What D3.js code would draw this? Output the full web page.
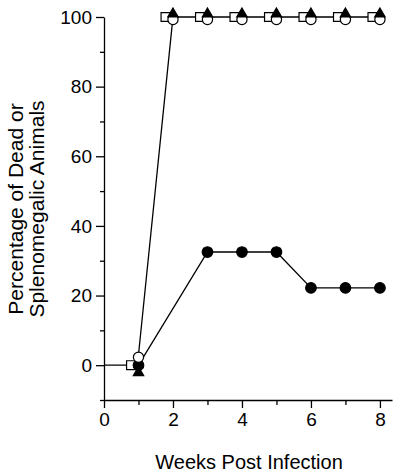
<!DOCTYPE html>
<html lang="en">
<head>
<meta charset="UTF-8">
<title>Weeks Post Infection</title>
<script src="https://cdn.jsdelivr.net/npm/d3@7"></script>
<style>
  body { margin: 0; background: #fff; }
  svg { display: block; font-family: "Liberation Sans", Arial, Helvetica, sans-serif; }
</style>
</head>
<body>
<div id="output"></div>
<script>

// data
var weeks = [1, 2, 3, 4, 5, 6, 7, 8];
var openSquare = [0, 100, 100, 100, 100, 100, 100, 100];
var openCircle = [3, 100, 100, 100, 100, 100, 100, 100];
var filledTriangle = [-3, 100, 100, 100, 100, 100, 100, 100];
var filledCircleWeeks = [1, 3, 4, 5, 6, 7, 8];
var filledCircle = [0, 32.5, 32.5, 32.5, 22.2, 22.2, 22.2];
var leadWeeks = [0, 1];
var leadValues = [0, 0];

var xMajor = [0, 2, 4, 6, 8];
var xMinor = [1, 3, 5, 7];
var yMajor = [0, 20, 40, 60, 80, 100];
var yMinor = [-10, 10, 30, 50, 70, 90];

var w = 400;
var h = 475;

var svg = d3.select("#output")
    .append("svg")
    .attr("width", w)
    .attr("height", h);

var x = d3.scaleLinear().domain([0, 8.35]).range([104, 392]);
var y = d3.scaleLinear().domain([-10, 100]).range([400, 17]);

// axes
var yAxisG = svg.append("g").attr("transform", "translate(104,0)");
yAxisG.call(d3.axisLeft(y).tickValues(yMinor).tickSize(4).tickSizeOuter(0).tickFormat(""));
yAxisG.append("g").call(d3.axisLeft(y).tickValues(yMajor).tickSize(8).tickSizeOuter(0).tickPadding(4));

var xAxisG = svg.append("g").attr("transform", "translate(0,400)");
xAxisG.call(d3.axisBottom(x).tickValues(xMinor).tickSize(5).tickSizeOuter(0).tickFormat(""));
xAxisG.append("g").call(d3.axisBottom(x).tickValues(xMajor).tickSize(8).tickSizeOuter(0).tickPadding(5));

svg.selectAll(".domain").attr("stroke", "#000").attr("stroke-width", 1.3);
svg.selectAll(".tick line").attr("stroke", "#000").attr("stroke-width", 1.3);
svg.selectAll(".tick text").attr("font-size", 19).attr("fill", "#000")
    .attr("font-family", "Liberation Sans, Arial, sans-serif");
// only one domain line per axis
yAxisG.select("g .domain").remove();
xAxisG.select("g .domain").remove();

// titles
svg.append("text")
    .attr("x", 249).attr("y", 469)
    .attr("text-anchor", "middle")
    .attr("font-size", 20)
    .text("Weeks Post Infection");

var yTitle = svg.append("text")
    .attr("transform", "translate(0,209) rotate(-90)")
    .attr("text-anchor", "middle")
    .attr("font-size", 21);
yTitle.append("tspan").attr("x", 0).attr("y", 23).text("Percentage of Dead or");
yTitle.append("tspan").attr("x", 0).attr("y", 44).text("Splenomegalic Animals");

// lines
var line = d3.line()
    .x(function (d) { return x(d[0]); })
    .y(function (d) { return y(d[1]); });

function pairs(xs, ys) {
    return xs.map(function (v, i) { return [v, ys[i]]; });
}

var lines = [
    pairs(leadWeeks, leadValues),
    pairs(weeks, openCircle),
    pairs(filledCircleWeeks, filledCircle)
];

svg.selectAll(".series-line")
    .data(lines)
    .enter().append("path")
    .attr("class", "series-line")
    .attr("d", line)
    .attr("fill", "none")
    .attr("stroke", "#000")
    .attr("stroke-width", 1.3);

// markers (drawn in this order so the overlaps look like the original)
var triangleUp = "M0,-9L5.2,0L-5.2,0Z";   // sits on its point

var markers = [
    { xs: weeks, ys: openSquare, path: d3.symbol().type(d3.symbolSquare).size(78)(), fill: "#fff", dx: -7.5, dy: 0 },
    { xs: filledCircleWeeks, ys: filledCircle, path: d3.symbol().type(d3.symbolCircle).size(88)(), fill: "#000", dx: 0, dy: 0 },
    { xs: weeks, ys: openCircle, path: d3.symbol().type(d3.symbolCircle).size(82)(), fill: "#fff", dx: 0, dy: 2.5 },
    { xs: weeks, ys: filledTriangle, path: triangleUp, fill: "#000", dx: 0, dy: 0 }
];

markers.forEach(function (m) {
    svg.append("g").selectAll("path")
        .data(pairs(m.xs, m.ys))
        .enter().append("path")
        .attr("d", m.path)
        .attr("transform", function (d) {
            return "translate(" + (x(d[0]) + m.dx) + "," + (y(d[1]) + m.dy) + ")";
        })
        .attr("fill", m.fill)
        .attr("stroke", "#000")
        .attr("stroke-width", 1.2);
});

</script>
</body>
</html>
